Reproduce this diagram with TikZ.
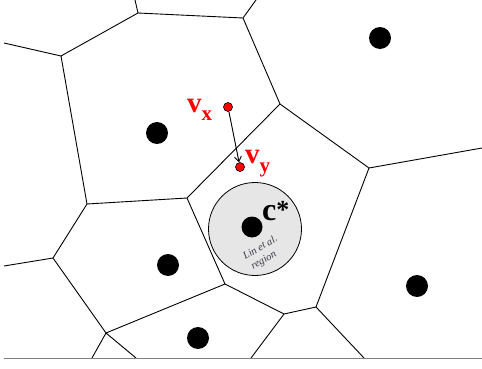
\documentclass[tikz,border=0pt]{standalone}
\usepackage{fontspec}
\setmainfont{Liberation Serif}
\usetikzlibrary{arrows.meta}
\definecolor{regfill}{HTML}{E6E6E6}
\definecolor{regtext}{HTML}{3A3A4A}
\tikzset{
  edge/.style={line width=0.9pt, black},
  site/.style={circle, fill=black, inner sep=0pt, minimum size=22pt},
  vpt/.style={circle, fill=red, draw=black, line width=0.6pt, inner sep=0pt, minimum size=9pt},
  redlbl/.style={text=red, inner sep=0pt, font=\bfseries},
  regtxt/.style={inner sep=0pt, text=regtext, font=\itshape\fontsize{10.5}{10.5}\selectfont},
}
\begin{document}
\begin{tikzpicture}[x=1pt,y=-1pt]
\useasboundingbox (0,0) rectangle (482,369);
% Voronoi vertices
\coordinate (A) at (138,13);
\coordinate (B) at (243,18);
\coordinate (C) at (280,104);
\coordinate (D) at (369,168);
\coordinate (E) at (187,198);
\coordinate (F) at (316,307);
\coordinate (G) at (284,314);
\coordinate (H) at (225,284);
\coordinate (I) at (106,333);
\coordinate (J) at (87,204);
\coordinate (K) at (53,258);
\coordinate (L) at (61,56);
% border ends
\coordinate (t1) at (135,0);
\coordinate (t2) at (256,0);
\coordinate (l1) at (4,43);
\coordinate (l2) at (4,266);
\coordinate (r1) at (482,148);
\coordinate (b1) at (92,358);
\coordinate (b2) at (136,358);
\coordinate (b3) at (251,358);
\coordinate (b4) at (364,358);
\coordinate (bl) at (4,358);
\coordinate (br) at (482,358);
% region circle
\node[circle, draw=black, fill=regfill, line width=0.8pt, minimum size=93pt, inner sep=0pt] (reg) at (255,229) {};
% edges
\draw[edge] (t1) -- (A) -- (B) -- (t2);
\draw[edge] (A) -- (L) -- (l1);
\draw[edge] (L) -- (J) -- (K) -- (l2);
\draw[edge] (B) -- (C) -- (D) -- (r1);
\draw[edge] (C) -- (E) -- (J);
\draw[edge] (E) -- (H) -- (G) -- (F) -- (D);
\draw[edge] (K) -- (I) -- (H);
\draw[edge] (I) -- (b1);
\draw[edge] (I) -- (b2);
\draw[edge] (G) -- (b3);
\draw[edge] (F) -- (b4);
\draw[line width=0.9pt, gray] (bl) -- (br);
% sites
\node[site] (s1) at (157,133) {};
\node[site] (s2) at (380,38) {};
\node[site] (s3) at (168,265) {};
\node[site] (s4) at (198,338) {};
\node[site] (s5) at (417,286) {};
\node[site, minimum size=21pt] (s6) at (252,227) {};
% points vx vy
\node[vpt] (vx) at (228,107) {};
\node[vpt] (vy) at (240,167) {};
\draw[line width=0.9pt, -{Straight Barb[length=5pt,width=7pt]}] (vx) -- (vy);
% labels
\node[redlbl, anchor=base west] (lx) at (187,113) {\fontsize{29}{29}\selectfont v\raisebox{-8pt}{\fontsize{21}{21}\selectfont x}};
\node[redlbl, anchor=base west] (ly) at (245,163) {\fontsize{29}{29}\selectfont v\raisebox{-9pt}{\fontsize{21}{21}\selectfont y}};
\node[inner sep=0pt, anchor=base west, font=\bfseries] (cs) at (262,220) {\fontsize{32}{32}\selectfont c\raisebox{2pt}{\fontsize{26}{26}\selectfont *}};
\node[regtxt] (t1l) at (260,247) {\rotatebox{30}{Lin et al.}};
\node[regtxt] (t2l) at (264,261) {\rotatebox{30}{region}};
\end{tikzpicture}
\end{document}
